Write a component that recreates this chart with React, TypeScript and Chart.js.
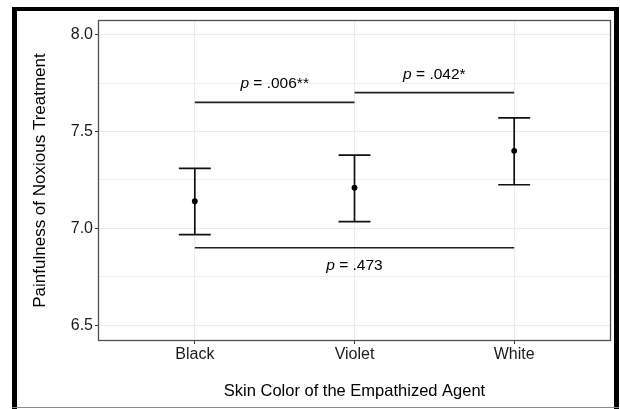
import React, { useEffect, useRef } from 'react';
import { Chart, registerables } from 'chart.js';

Chart.register(...registerables);

const categories = ['Black', 'Violet', 'White'];
const means = [7.14, 7.21, 7.4];
const ciLower = [6.968, 7.035, 7.225];
const ciUpper = [7.31, 7.378, 7.57];
const yMajorTicks = [6.5, 7.0, 7.5, 8.0];
const yMinorTicks = [6.75, 7.25, 7.75];
const comparisonFrom = [0, 1, 0];
const comparisonTo = [1, 2, 2];
const comparisonY = [7.65, 7.7, 6.9];
const comparisonP = ['.006**', '.042*', '.473'];
const comparisonSide = [1, 1, -1];

const FONT = '"Liberation Sans", Arial, Helvetica, sans-serif';
const LABEL_OFFSET = 0.095;
const CAP_HALF = 0.1;

const framePlugin = {
  id: 'framePlugin',
  beforeDraw(chart: any) {
    const ctx = chart.ctx;
    ctx.save();
    ctx.fillStyle = '#ffffff';
    ctx.fillRect(0, 0, chart.width, chart.height);
    ctx.restore();
  },
  beforeDatasetsDraw(chart: any) {
    const ctx = chart.ctx;
    const xs = chart.scales.x;
    const ys = chart.scales.y;
    ctx.save();
    ctx.strokeStyle = '#111111';
    ctx.lineWidth = 1.7;
    ctx.lineCap = 'butt';
    for (let i = 0; i < categories.length; i++) {
      const x = xs.getPixelForValue(i);
      const xl = xs.getPixelForValue(i - CAP_HALF);
      const xr = xs.getPixelForValue(i + CAP_HALF);
      const yl = ys.getPixelForValue(ciLower[i]);
      const yu = ys.getPixelForValue(ciUpper[i]);
      ctx.beginPath();
      ctx.moveTo(x, yl);
      ctx.lineTo(x, yu);
      ctx.moveTo(xl, yl);
      ctx.lineTo(xr, yl);
      ctx.moveTo(xl, yu);
      ctx.lineTo(xr, yu);
      ctx.stroke();
    }
    ctx.restore();
  },
  afterDatasetsDraw(chart: any) {
    const ctx = chart.ctx;
    const xs = chart.scales.x;
    const ys = chart.scales.y;
    ctx.save();
    ctx.fillStyle = '#000000';
    ctx.textBaseline = 'middle';
    ctx.textAlign = 'left';
    const italic = 'italic 15.5px ' + FONT;
    const normal = '15.5px ' + FONT;
    for (let i = 0; i < comparisonP.length; i++) {
      const cx = xs.getPixelForValue((comparisonFrom[i] + comparisonTo[i]) / 2);
      const cy = ys.getPixelForValue(comparisonY[i] + comparisonSide[i] * LABEL_OFFSET);
      ctx.font = italic;
      const w1 = ctx.measureText('p').width;
      const rest = ' = ' + comparisonP[i];
      ctx.font = normal;
      const w2 = ctx.measureText(rest).width;
      const x0 = cx - (w1 + w2) / 2;
      ctx.font = italic;
      ctx.fillText('p', x0, cy);
      ctx.font = normal;
      ctx.fillText(rest, x0 + w1, cy);
    }
    // panel border
    const a = chart.chartArea;
    ctx.strokeStyle = '#505050';
    ctx.lineWidth = 1.3;
    ctx.strokeRect(a.left - 0.5, a.top - 0.5, a.right - a.left + 1, a.bottom - a.top + 1);
    ctx.restore();
  },
  afterDraw(chart: any) {
    const ctx = chart.ctx;
    ctx.save();
    ctx.fillStyle = '#000000';
    ctx.fillRect(12, 7, 5, 402);
    ctx.fillRect(12, 7, 607, 4);
    ctx.fillRect(614, 7, 5, 402);
    ctx.fillStyle = '#8a8a8a';
    ctx.fillRect(12, 407, 607, 1);
    ctx.restore();
  },
};

export default function App() {
  const canvasRef = useRef<HTMLCanvasElement | null>(null);

  useEffect(() => {
    const canvas = canvasRef.current;
    if (!canvas) return;

    const bracketDatasets = comparisonY.map((yv, i) => ({
      type: 'line' as const,
      data: [
        { x: comparisonFrom[i], y: yv },
        { x: comparisonTo[i], y: yv },
      ],
      borderColor: '#222222',
      borderWidth: 1.7,
      pointRadius: 0,
      fill: false,
    }));

    const chart = new Chart(canvas, {
      type: 'scatter',
      data: {
        datasets: [
          ...bracketDatasets,
          {
            type: 'scatter' as const,
            data: means.map((m, i) => ({ x: i, y: m })),
            backgroundColor: '#000000',
            borderColor: '#000000',
            pointRadius: 2.9,
            pointBorderWidth: 0,
          },
        ] as any,
      },
      options: {
        responsive: false,
        animation: false,
        events: [],
        layout: { padding: { left: 0, top: 21, right: 10, bottom: 0 } },
        plugins: {
          legend: { display: false },
          tooltip: { enabled: false },
        },
        scales: {
          x: {
            type: 'linear',
            min: -0.6,
            max: 2.6,
            afterBuildTicks: (scale: any) => {
              scale.ticks = categories.map((_, i) => ({ value: i }));
            },
            afterFit: (scale: any) => {
              scale.height = 69;
            },
            ticks: {
              callback: (v: any) => categories[Number(v)] ?? '',
              color: '#1a1a1a',
              font: { family: FONT, size: 16 },
              padding: 1,
              maxRotation: 0,
              autoSkip: false,
            },
            grid: {
              color: '#ebebeb',
              lineWidth: 1,
              tickColor: '#333333',
              tickLength: 4,
              tickWidth: 1,
            },
            border: { display: false },
            title: {
              display: true,
              text: 'Skin Color of the Empathized Agent',
              color: '#000000',
              font: { family: FONT, size: 16.5 },
              padding: { top: 0, bottom: 8 },
            },
          },
          y: {
            type: 'linear',
            min: 6.424,
            max: 8.07,
            afterBuildTicks: (scale: any) => {
              scale.ticks = [...yMajorTicks, ...yMinorTicks]
                .sort((a, b) => a - b)
                .map((v) => ({ value: v }));
            },
            afterFit: (scale: any) => {
              scale.width = 99;
            },
            ticks: {
              callback: (v: any) =>
                yMajorTicks.includes(Number(v)) ? Number(v).toFixed(1) : '',
              color: '#1a1a1a',
              font: { family: FONT, size: 16 },
              padding: 2,
              autoSkip: false,
            },
            grid: {
              color: '#ebebeb',
              lineWidth: (ctx: any) =>
                ctx.tick && yMajorTicks.includes(ctx.tick.value) ? 1 : 0.8,
              tickColor: (ctx: any) =>
                ctx.tick && yMajorTicks.includes(ctx.tick.value)
                  ? '#333333'
                  : 'rgba(0,0,0,0)',
              tickLength: 4,
              tickWidth: 1,
            },
            border: { display: false },
            title: {
              display: true,
              text: 'Painfulness of Noxious Treatment',
              color: '#000000',
              font: { family: FONT, size: 17 },
              padding: { top: 30, bottom: 0 },
            },
          },
        },
      },
      plugins: [framePlugin],
    } as any);

    return () => {
      chart.destroy();
    };
  }, []);

  return (
    <div style={{ position: 'fixed', left: 0, top: 0, width: 620, height: 409, background: '#fff' }}>
      <canvas ref={canvasRef} width={620} height={409} style={{ display: 'block', width: 620, height: 409 }} />
    </div>
  );
}
